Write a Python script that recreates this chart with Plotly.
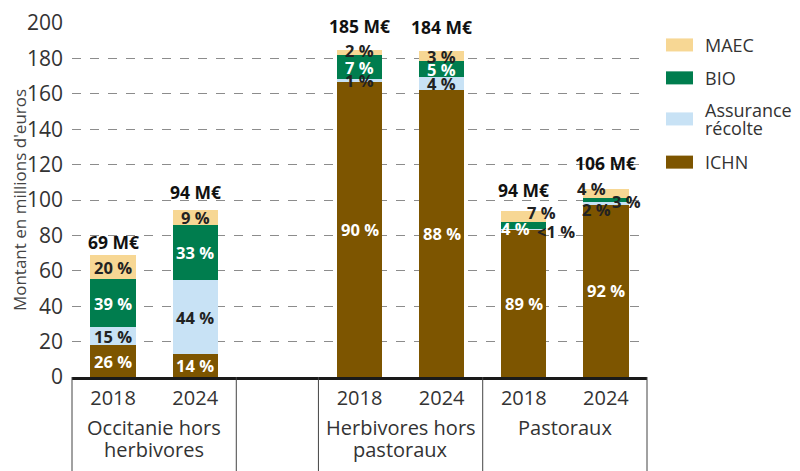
import numpy as np
import plotly.graph_objects as go

# data
positions = [0, 1, 3, 4, 5, 6]
years = ["2018", "2024", "2018", "2024", "2018", "2024"]
groups = ["Occitanie hors<br>herbivores", "Herbivores hors<br>pastoraux", "Pastoraux"]
group_centers = [0.5, 3.5, 5.5]
separators = [-0.5, 1.5, 2.5, 4.5, 6.5]

ichn = [17.9, 13.2, 166.8, 162.0, 83.5, 97.2]
assurance = [10.4, 41.4, 1.4, 7.4, 0.4, 1.5]
bio = [26.9, 31.0, 13.8, 9.2, 3.5, 2.6]
maec = [13.8, 8.5, 3.0, 5.5, 6.6, 4.7]

ichn_pct = ["26 %", "14 %", "90 %", "88 %", "89 %", "92 %"]
assurance_pct = ["15 %", "44 %", "1 %", "4 %", "<1 %", "2 %"]
bio_pct = ["39 %", "33 %", "7 %", "5 %", "4 %", "3 %"]
maec_pct = ["20 %", "9 %", "2 %", "3 %", "7 %", "4 %"]
totals = ["69 M€", "94 M€", "185 M€", "184 M€", "94 M€", "106 M€"]

FONT = "Open Sans"
DARK = "#222222"

series = [
    ("ICHN", ichn, ichn_pct, "#7D5500", "white"),
    ("Assurance<br>récolte", assurance, assurance_pct, "#C8E2F5", DARK),
    ("BIO", bio, bio_pct, "#007D4E", "white"),
    ("MAEC", maec, maec_pct, "#F7D794", DARK),
]

# label nudges (px) for the thin segments: (series index, bar index) -> (dx, dy, colour)
nudges = {
    (1, 4): (32, -3, None),
    (1, 5): (-9, -6, None),
    (2, 4): (-8, -3, None),
    (2, 5): (21, -1, DARK),
    (3, 2): (0, 2, None),
    (3, 4): (18, 4, None),
    (3, 5): (-14, 5, None),
}
total_gaps = [13, 18, 24, 24, 21, 26]

fig = go.Figure()
base = np.zeros(len(positions))
annotations = []
for si, (name, vals, pcts, color, txtcol) in enumerate(series):
    vals = np.array(vals)
    fig.add_trace(go.Bar(
        x=positions,
        y=vals,
        name=name,
        width=0.55,
        marker=dict(color=color, line=dict(width=0)),
        showlegend=False,
        hoverinfo="skip"
    ))
    for i, p in enumerate(positions):
        dx, dy, col = nudges.get((si, i), (0, 0, None))
        annotations.append(dict(
            x=p, y=base[i] + vals[i] / 2, xref="x", yref="y",
            text="<b>%s</b>" % pcts[i], showarrow=False,
            xshift=dx, yshift=dy,
            font=dict(family=FONT, size=16.5, color=col or txtcol)
        ))
    base = base + vals

for i, p in enumerate(positions):
    annotations.append(dict(
        x=p, y=base[i], xref="x", yref="y",
        text="<b>%s</b>" % totals[i], showarrow=False,
        yshift=total_gaps[i],
        font=dict(family=FONT, size=17.5, color="#111111")
    ))

# group labels under the years
for c, g in zip(group_centers, groups):
    for k, line in enumerate(g.split("<br>")):
        annotations.append(dict(
            x=c, y=0, xref="x", yref="paper",
            text=line, showarrow=False, yanchor="middle",
            yshift=-50 - 22 * k,
            font=dict(family=FONT, size=20, color="#333333")
        ))

# separators
shapes = []
for s in separators:
    xp = (s + 0.5) / 7
    shapes.append(dict(
        type="line", xref="paper", yref="paper",
        x0=xp, x1=xp, y0=0, y1=-0.27,
        line=dict(color="#444444", width=1)
    ))

# legend (drawn by hand: wide flat swatches)
legend_rows = [("MAEC", "#F7D794", 0.938), ("BIO", "#007D4E", 0.845),
               ("Assurance<br>récolte", "#C8E2F5", 0.729), ("ICHN", "#7D5500", 0.607)]
for label, color, yc in legend_rows:
    shapes.append(dict(
        type="rect", xref="paper", yref="paper",
        x0=1.033, x1=1.080, y0=yc - 0.0184, y1=yc + 0.0184,
        line=dict(width=0), fillcolor=color
    ))
    lines = label.split("<br>")
    for k, line in enumerate(lines):
        annotations.append(dict(
            x=1.098, y=yc, xref="paper", yref="paper",
            xanchor="left", yanchor="middle", showarrow=False,
            text=line, yshift=9 * (len(lines) - 1) - 18 * k,
            font=dict(family=FONT, size=18, color="#333333")
        ))

# page body has an 8px margin, so the figure is made 8px smaller
fig.update_layout(
    barmode="stack",
    width=792,
    height=463,
    margin=dict(l=64, r=153, t=15, b=94),
    paper_bgcolor="white",
    plot_bgcolor="white",
    font=dict(family=FONT, color="#333333"),
    annotations=annotations,
    shapes=shapes,
    xaxis=dict(
        range=[-0.5, 6.5],
        tickvals=positions,
        ticktext=years,
        tickfont=dict(size=20, color="#333333"),
        ticklabelstandoff=1,
        showgrid=False,
        zeroline=False,
        showline=True,
        linecolor="#1a1a1a",
        linewidth=2.5,
        ticks="",
        automargin=False
    ),
    yaxis=dict(
        range=[0, 200],
        dtick=20,
        showgrid=True,
        gridcolor="#8c8c8c",
        griddash="dash",
        gridwidth=1,
        zeroline=False,
        tickfont=dict(size=21, color="#333333"),
        ticklabelstandoff=8,
        automargin=False,
        title=dict(text="Montant en millions d'euros",
                   font=dict(size=17, color="#444444"), standoff=4)
    )
)

fig.write_html("out.html")
